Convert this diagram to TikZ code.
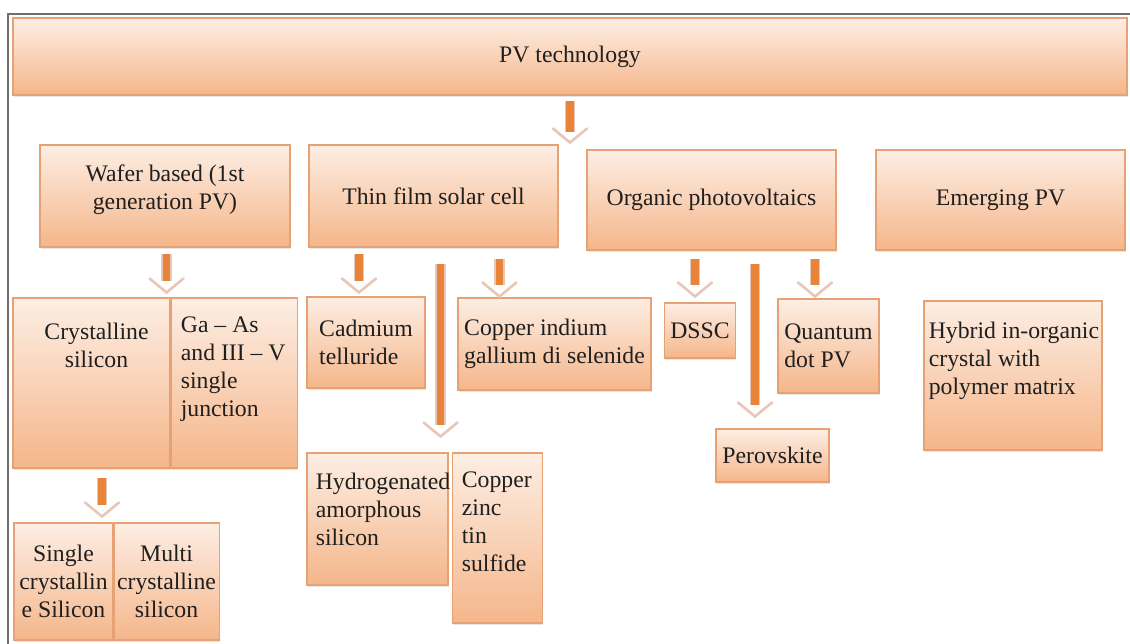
\documentclass[tikz,border=0pt]{standalone}
\usepackage{fontspec}
\setmainfont{Liberation Serif}
\usetikzlibrary{positioning,decorations.markings,shadows}
\definecolor{pvedge}{HTML}{E6A274}
\definecolor{pvlight}{HTML}{FDEEE4}
\definecolor{pvdark}{HTML}{F5B68A}
\definecolor{pvshaft}{HTML}{E8843A}
\definecolor{pvchev}{HTML}{E8C6B8}
\definecolor{framegray}{HTML}{6E6E6E}
\tikzset{
  pvbox/.style={rectangle, draw=pvedge, line width=0.6pt, top color=pvlight, bottom color=pvdark, inner sep=1pt, align=center, text=black!88, font=\fontsize{13.5}{16}\selectfont, drop shadow={opacity=0.2, shadow xshift=0.4pt, shadow yshift=-1.2pt}},
  pvtext/.style={inner sep=0pt, align=left, text=black!88, font=\fontsize{13.5}{16}\selectfont},
  pvarrow/.style={
    postaction={draw=pvchev, line width=6pt, shorten >=0.22cm},
    postaction={draw=pvshaft, line width=4.4pt, shorten >=0.22cm},
    postaction={decorate, decoration={markings, mark=at position 1 with {\draw[pvchev, line width=1.5pt, line cap=round] (-0.28,0.34) -- (0,0) -- (-0.28,-0.34);}}}}
}

\begin{document}
\begin{tikzpicture}
\useasboundingbox (0,0) rectangle (22.6,-12.88);
\draw[framegray, line width=0.7pt] (0.16,-12.88) -- (0.16,-0.28) -- (22.6,-0.28);

% top level
\node (pvtech) [pvbox, minimum width=22.28cm, minimum height=1.54cm] at (11.40,-1.13) {PV technology};
\coordinate (pvtip) at ([yshift=-0.94cm]pvtech.south);

\node (wafer) [pvbox, minimum width=5cm, minimum height=2.04cm] at (3.30,-3.92) {};
\node (wafer-t) [pvtext, align=center] at ([yshift=0.12cm]wafer.center) {Wafer based (1st\\generation PV)};
\node (thin) [pvbox, minimum width=4.98cm, minimum height=2.04cm] at (8.67,-3.92) {Thin film solar cell};
\node (organic) [pvbox, minimum width=4.98cm, minimum height=2cm] at (14.23,-4.00) {Organic photovoltaics};
\node (emerging) [pvbox, minimum width=4.98cm, minimum height=2cm] at (20.01,-4.00) {Emerging PV};

% wafer based
\node (crys) [pvbox, minimum width=3.14cm, minimum height=3.4cm] at (1.83,-7.66) {};
\node (gaas) [pvbox, minimum width=2.52cm, minimum height=3.4cm, right=0cm of crys] {};
\node (crys-t) [pvtext, align=center, anchor=north] at ([xshift=0.1cm, yshift=-0.5cm]crys.north) {Crystalline\\silicon};
\node (gaas-t) [pvtext, anchor=north west] at ([xshift=0.2cm, yshift=-0.38cm]gaas.north west) {Ga – As\\and III – V\\single\\junction};
\node (single) [pvbox, minimum width=1.98cm, minimum height=2.34cm] at (1.27,-11.63) {Single\\crystallin\\e Silicon};
\node (multi) [pvbox, minimum width=2.1cm, minimum height=2.34cm, right=0cm of single] {Multi\\crystalline\\silicon};

% thin film
\node (cadm) [pvbox, align=left, minimum width=2.36cm, minimum height=1.82cm] at (7.32,-6.85) {Cadmium\\telluride};
\node (cigs) [pvbox, align=left, minimum width=3.86cm, minimum height=1.84cm] at (11.09,-6.88) {Copper indium\\gallium di selenide};
\node (hydro) [pvbox, minimum width=2.82cm, minimum height=2.64cm] at (7.55,-10.38) {};
\node (czts) [pvbox, minimum width=1.8cm, minimum height=3.4cm, anchor=north west] at ([xshift=0.06cm]hydro.north east) {};
\node (hydro-t) [pvtext, anchor=north west] at ([xshift=0.18cm, yshift=-0.4cm]hydro.north west) {Hydrogenated\\amorphous\\silicon};
\node (czts-t) [pvtext, anchor=north west] at ([xshift=0.2cm, yshift=-0.38cm]czts.north west) {Copper\\zinc\\tin\\sulfide};

% organic
\node (dssc) [pvbox, minimum width=1.42cm, minimum height=1.1cm] at (14.00,-6.61) {DSSC};
\node (quantum) [pvbox, align=left, minimum width=2.02cm, minimum height=1.88cm] at (16.57,-6.92) {Quantum\\dot PV};
\node (perov) [pvbox, minimum width=2.26cm, minimum height=1.06cm] at (15.45,-9.11) {Perovskite};

% emerging
\node (hybrid) [pvbox, minimum width=3.56cm, minimum height=2.98cm] at (20.26,-7.51) {};
\node (hybrid-t) [pvtext, anchor=north west] at ([xshift=0.1cm, yshift=-0.42cm]hybrid.north west) {Hybrid in-organic\\crystal with\\polymer matrix};

\path[pvarrow] ([yshift=-0.1cm]pvtech.south) -- (pvtip);
\path[pvarrow] ([xshift=-0.08cm, yshift=-0.12cm]wafer.south -| crys.east) -- ([xshift=-0.08cm, yshift=0.1cm]crys.north east);
\path[pvarrow] ([xshift=0.21cm, yshift=-0.18cm]crys.south) -- ([xshift=0.21cm, yshift=0.12cm]crys.south |- single.north);
\path[pvarrow] ([xshift=-0.14cm, yshift=-0.12cm]thin.south -| cadm.north) -- ([xshift=-0.14cm, yshift=0.08cm]cadm.north);
\path[pvarrow] ([xshift=-0.16cm, yshift=-0.32cm]thin.south -| hydro.north east) -- ([xshift=-0.16cm, yshift=0.32cm]hydro.north east);
\path[pvarrow] ([xshift=0.84cm, yshift=-0.22cm]thin.south -| cigs.north west) -- ([xshift=0.84cm, yshift=0.02cm]cigs.north west);
\path[pvarrow] ([xshift=-0.1cm, yshift=-0.16cm]organic.south -| dssc.north) -- ([xshift=-0.1cm, yshift=0.12cm]dssc.north);
\path[pvarrow] ([xshift=-0.35cm, yshift=-0.26cm]organic.south -| perov.north) -- ([xshift=-0.35cm, yshift=0.24cm]perov.north);
\path[pvarrow] ([xshift=-0.27cm, yshift=-0.16cm]organic.south -| quantum.north) -- ([xshift=-0.27cm, yshift=0.04cm]quantum.north);
\end{tikzpicture}
\end{document}
